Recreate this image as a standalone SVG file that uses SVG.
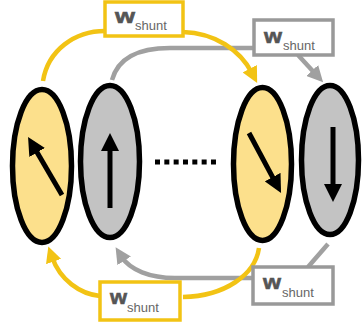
<svg xmlns="http://www.w3.org/2000/svg" width="362" height="328" viewBox="0 0 362 328">
<style>
.ey{fill:#FCE08C;stroke:#000;stroke-width:5.5}
.eg{fill:#C3C3C3;stroke:#000;stroke-width:5.5}
.sp{stroke:#000;stroke-width:5;fill:none}
.cy{stroke:#F2C314;stroke-width:4.5;fill:none}
.cg{stroke:#A0A0A0;stroke-width:4.5;fill:none}
.by{fill:#fff;stroke:#F2C314;stroke-width:3.5}
.bg{fill:#fff;stroke:#999;stroke-width:3.5}
.w{font-family:'Liberation Sans',Arial,sans-serif;font-weight:bold;font-size:20px;fill:#555;stroke:#555;stroke-width:0.6}
.s{font-family:'Liberation Sans',Arial,sans-serif;font-size:13px;fill:#666}
</style>
<defs>
<marker id="ah" viewBox="0 0 18 18" markerWidth="18" markerHeight="18" markerUnits="userSpaceOnUse" refX="6" refY="9" orient="auto"><path d="M0,0 L18,9 L0,18 z" fill="#000"/></marker>
<marker id="ay" viewBox="0 0 10 10" markerWidth="16" markerHeight="16" markerUnits="userSpaceOnUse" refX="3" refY="5" orient="auto"><path d="M0,0 L10,5 L0,10 z" fill="#F2C314"/></marker>
<marker id="ag" viewBox="0 0 10 10" markerWidth="16" markerHeight="16" markerUnits="userSpaceOnUse" refX="3" refY="5" orient="auto"><path d="M0,0 L10,5 L0,10 z" fill="#A0A0A0"/></marker>
</defs>
<g id="connectors">
<path class="cg" d="M112,80 C118,58 138,48 170,48 L254,48"/>
<path class="cg" d="M298,55 L315.5,74" marker-end="url(#ag)"/>
<path class="cg" d="M328,244 L308,267"/>
<path class="cg" d="M253,278 L175,278 C150,278 130,270 121.6,256.8" marker-end="url(#ag)"/>
<path class="cy" d="M43,81 C48,50 75,31 105,31"/>
<path class="cy" d="M183,32 C215,33 240,50 252,73" marker-end="url(#ay)"/>
<path class="cy" d="M259,248 C255,275 225,296 183,297"/>
<path class="cy" d="M100,296 C80,294 60,280 52,257" marker-end="url(#ay)"/>
</g>
<g id="spin1"><ellipse class="ey" cx="42" cy="166" rx="29.5" ry="76.5"/><line class="sp" x1="62" y1="195" x2="34.1" y2="147.3" marker-end="url(#ah)"/></g>
<g id="spin2"><ellipse class="eg" cx="110" cy="161.5" rx="29.5" ry="76"/><line class="sp" x1="110" y1="208" x2="110" y2="145" marker-end="url(#ah)"/></g>
<g id="dots"><line x1="155" y1="162" x2="216" y2="162" stroke="#000" stroke-width="5" stroke-dasharray="5 4.33"/></g>
<g id="spin3"><ellipse class="ey" cx="262.5" cy="164" rx="29" ry="76.5"/><line class="sp" x1="249" y1="133" x2="275.4" y2="182.4" marker-end="url(#ah)"/></g>
<g id="spin4"><ellipse class="eg" cx="330" cy="160" rx="28.5" ry="74.5"/><line class="sp" x1="333" y1="127" x2="333" y2="190" marker-end="url(#ah)"/></g>
<g id="label-top-yellow"><rect class="by" x="105" y="2" width="78" height="34"/><text class="w" x="115" y="23" textLength="20" lengthAdjust="spacingAndGlyphs">w</text><text class="s" x="135" y="30">shunt</text></g>
<g id="label-top-gray"><rect class="bg" x="254" y="20" width="79" height="35"/><text class="w" x="264" y="43" textLength="18" lengthAdjust="spacingAndGlyphs">w</text><text class="s" x="283" y="50">shunt</text></g>
<g id="label-bottom-yellow"><rect class="by" x="100" y="282" width="80" height="38"/><text class="w" x="110" y="304" textLength="17" lengthAdjust="spacingAndGlyphs">w</text><text class="s" x="127" y="312">shunt</text></g>
<g id="label-bottom-gray"><rect class="bg" x="253" y="267" width="80" height="37"/><text class="w" x="263" y="289" textLength="18" lengthAdjust="spacingAndGlyphs">w</text><text class="s" x="282" y="297">shunt</text></g>
</svg>
